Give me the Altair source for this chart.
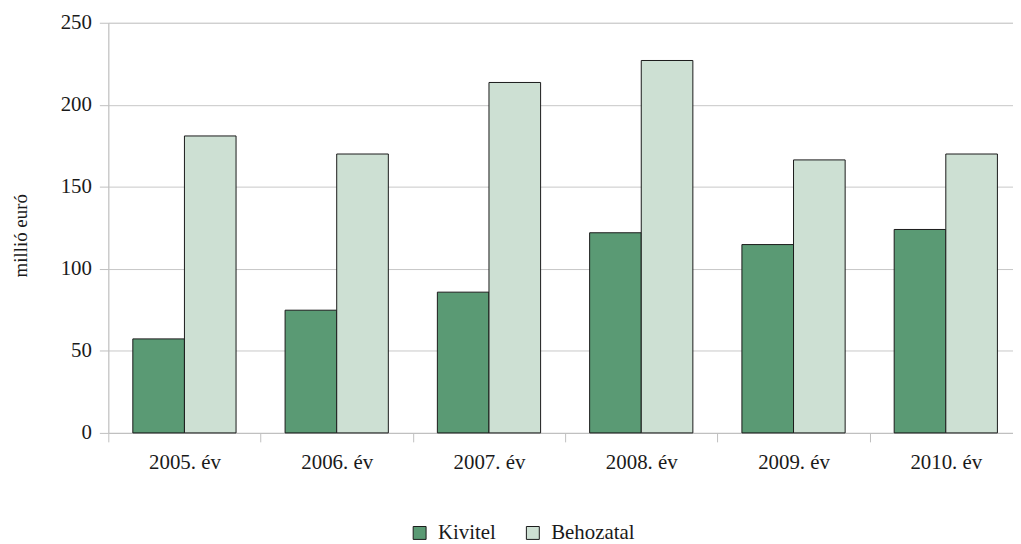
import altair as alt
import pandas as pd

years = ["2005. év", "2006. év", "2007. év", "2008. év", "2009. év", "2010. év"]
kivitel = [57.3, 74.8, 85.8, 122.0, 114.8, 124.0]
behozatal = [181.0, 170.0, 213.6, 227.0, 166.4, 170.0]
series = ["Kivitel", "Behozatal"]
colors = ["#5a9a74", "#cde0d3"]

rows = []
for i, y in enumerate(years):
    rows.append({"ev": y, "sorozat": series[0], "ertek": kivitel[i]})
    rows.append({"ev": y, "sorozat": series[1], "ertek": behozatal[i]})
df = pd.DataFrame(rows)

FONT = "Liberation Serif"

chart = alt.Chart(df).mark_bar(stroke="#1a1a1a", strokeWidth=1).encode(
    x=alt.X("ev:N", sort=years, title=None,
            scale=alt.Scale(range=[0, 920], paddingInner=0, paddingOuter=0),
            axis=alt.Axis(labelAngle=0, tickBand="extent", tickSize=9, tickColor="#bfbfbf",
                          domainColor="#bfbfbf", labelFontSize=21, labelFont=FONT,
                          labelColor="#1a1a1a", labelPadding=10, grid=False)),
    xOffset=alt.XOffset("sorozat:N", sort=series,
                        scale=alt.Scale(paddingInner=0, paddingOuter=0.475)),
    y=alt.Y("ertek:Q", title="millió euró",
            scale=alt.Scale(domain=[0, 250]),
            axis=alt.Axis(values=[0, 50, 100, 150, 200, 250], tickSize=9, tickColor="#bfbfbf",
                          domainColor="#bfbfbf", gridColor="#c8c8c8", labelFontSize=21,
                          labelFont=FONT, labelColor="#1a1a1a", labelPadding=8,
                          titleFont=FONT, titleFontSize=19, titleFontWeight="normal",
                          titleColor="#1a1a1a", titleX=-88, titleY=214, titleAngle=-90,
                          titleBaseline="middle", titleAlign="center")),
    color=alt.Color("sorozat:N", sort=series, title=None,
                    scale=alt.Scale(domain=series, range=colors),
                    legend=alt.Legend(orient="none", legendX=303, legendY=503,
                                      direction="horizontal", symbolType="square",
                                      symbolSize=169, symbolStrokeColor="#1a1a1a",
                                      symbolStrokeWidth=1, labelFont=FONT, labelFontSize=21,
                                      labelColor="#1a1a1a", labelOffset=8, columnPadding=26)),
).properties(
    width=911, height=413,
    autosize=alt.AutoSizeParams(type="none"),
    padding={"left": 101, "top": 13, "right": 0, "bottom": 110},
).configure_view(stroke=None).configure(background="white")

chart.save("out.html", embed_options={"renderer": "svg", "actions": False})
